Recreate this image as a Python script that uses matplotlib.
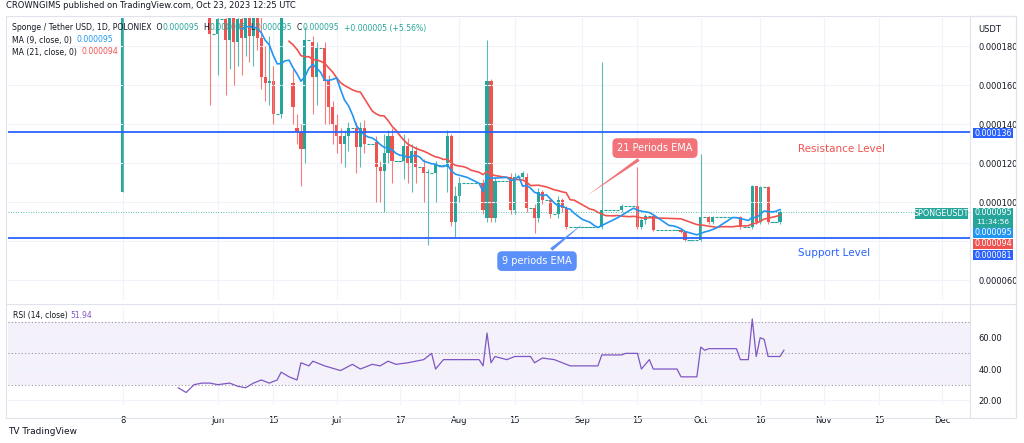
import numpy as np
import pandas as pd
import matplotlib.pyplot as plt
from matplotlib.patches import FancyBboxPatch

# ---------------------------------------------------------------
# Data (prices in units of 1e-6 USDT, days counted from May 8)
# ---------------------------------------------------------------
days = [0, 22, 24, 26, 27, 28, 29, 30, 31, 32, 33, 34, 35, 36, 37, 38, 40,
        43, 44, 45, 46, 48, 49, 51, 52, 53, 54, 55, 56, 57, 59, 60, 61,
        64, 65, 66, 67, 68, 71, 72, 73, 74, 76, 77, 79, 82, 83, 84, 85,
        91, 92, 93, 94, 98, 99, 101, 102, 104, 105, 106, 108, 110, 111, 112,
        121, 126, 130, 131, 132, 134, 141, 142, 146, 148, 149, 156, 159, 160,
        161, 163, 166]
opens = [105, 196, 186, 194, 183, 196, 182, 194, 184, 197, 185, 195, 184, 164, 161, 162, 145,
         161, 138, 136, 127, 182, 164, 179, 162, 149, 140, 134, 130, 134, 138, 128, 138,
         131, 118, 116, 125, 134, 121, 129, 120, 126, 118, 115, 115, 118, 134, 90, 103,
         110, 92, 162, 92, 113, 96, 113, 113, 97, 92, 105, 101, 94, 101, 97,
         87, 96, 98, 87, 91, 93, 85.6, 84.6, 80.5, 92.3, 90, 92.3, 87, 108,
         90, 107.7, 90]
highs = [200, 200, 200, 200, 200, 200, 200, 200, 200, 200, 200, 200, 195, 180, 185, 170, 200,
         168, 145, 140, 190, 185, 182, 182, 165, 152, 145, 138, 137, 141, 141, 141, 142,
         134, 121, 135, 137, 138, 135, 133, 130, 129, 122, 117, 121, 137, 135, 108, 113,
         112, 183, 163, 113, 115, 115, 116, 115, 99, 107, 106, 102, 103, 102, 98,
         172, 99, 118, 92, 94, 94, 86, 85, 124.6, 93, 93, 93, 109, 108,
         108, 108, 96]
lows = [105, 150, 165, 155, 168, 160, 170, 165, 175, 172, 170, 178, 158, 152, 150, 140, 143,
        140, 130, 108, 120, 145, 150, 140, 140, 130, 125, 120, 118, 126, 115, 118, 125,
        100, 100, 95, 120, 110, 112, 110, 105, 110, 100, 78, 100, 105, 88, 82, 100,
        94, 90, 90, 90, 94, 94, 112, 95, 84, 90, 99, 92, 92, 95, 86,
        86, 95, 86, 86, 89, 85, 84, 80, 80, 89, 89, 86, 86, 89,
        89, 89, 89]
closes = [200, 186, 194, 183, 196, 182, 194, 184, 197, 185, 195, 184, 164, 161, 162, 145, 198,
          149, 136, 127, 183, 164, 179, 162, 149, 140, 134, 130, 134, 138, 128, 138, 130,
          118, 116, 125, 134, 121, 129, 120, 126, 118, 115, 115, 119, 134, 90, 103, 110,
          96, 162, 92, 111, 96, 113, 115, 97, 92, 105, 101, 94, 101, 97, 87,
          96, 98, 87, 91, 93, 85.6, 84.6, 80.5, 92.3, 90, 92.3, 87, 108, 90,
          107.7, 90, 95]

rsi_days = [14, 16, 18, 20, 22, 24, 27, 29, 31, 33, 35, 37, 39, 40, 42, 44, 45, 47, 48,
            51, 55, 58, 60, 63, 65, 67, 69, 72, 76, 78, 79, 81, 87, 90, 91, 92, 93,
            94, 97, 99, 103, 104, 106, 109, 111, 113, 120, 121, 126, 127, 130, 131,
            133, 134, 140, 141, 145, 146, 147, 148, 155, 156, 158, 159, 160, 161,
            162, 163, 166, 167]
rsi_vals = [28, 25, 30, 31, 31, 30, 31, 29, 28, 31, 33, 31, 33, 38, 35, 33, 44, 42, 45,
            42, 39, 43, 40, 43, 42, 45, 43, 44, 46, 50, 40, 46, 46, 46, 42, 63, 44,
            48, 46, 48, 48, 44, 47, 46, 44, 42, 42, 49, 49, 50, 50, 40,
            46, 40, 40, 35, 35, 54, 52, 53, 53, 46, 46, 72, 48, 60,
            59, 48, 48, 52]

tick_days = [0, 24, 38, 54, 70, 85, 99, 116, 130, 146, 161, 177, 191, 207]
tick_labels = ['8', 'Jun', '15', 'Jul', '17', 'Aug', '15', 'Sep', '15', 'Oct', '16',
               'Nov', '15', 'Dec']

price_ticks = [60, 100, 120, 140, 160, 180]
resistance = 136
support = 81.5

UP = '#26a69a'
DN = '#ef5350'
BLUE = '#2962ff'
TXT = '#131722'

# daily series with flat days carried forward, for the moving averages
s = pd.Series(closes[1:], index=days[1:])
daily = s.reindex(range(days[1], days[-1] + 1)).ffill()
ma9 = daily.rolling(9).mean()
ma21 = daily.rolling(21).mean()

W, H = 1024, 443
fig = plt.figure(figsize=(W / 100, H / 100), dpi=100)
def fx(px): return px / W
def fy(py): return 1 - py / H

ax = fig.add_axes([fx(8), fy(300), fx(962), (300 - 18) / H])
axr = fig.add_axes([fx(8), fy(405), fx(962), (405 - 308) / H], sharex=ax)

# pixel -> data helpers for the price pane
def dx(px): return (px - 8) / 962 * 243 - 29
def py2p(py): return 100 - (py - 202) / 1.95

for a in (ax, axr):
    for sp in a.spines.values():
        sp.set_visible(False)
    a.tick_params(length=0, labelsize=6, colors=TXT)
    a.yaxis.tick_right()

# candles
for i in range(len(days)):
    c = UP if closes[i] >= opens[i] else DN
    ax.vlines(days[i], lows[i], highs[i], color=c, lw=0.8, alpha=0.75)
    lo, hi = sorted([opens[i], closes[i]])
    ax.bar(days[i], max(hi - lo, 0.4), bottom=lo, width=0.8, color=c)
# flat days drawn as dashes
for d in daily.index:
    if d not in days:
        ax.hlines(daily[d], d - 0.4, d + 0.4, color=UP, lw=0.8)

ax.plot(ma21.index, ma21.values, color=DN, lw=1.2)
ax.plot(ma9.index, ma9.values, color='#2196f3', lw=1.2)

ax.axhline(resistance, color=BLUE, lw=1.3)
ax.axhline(support, color=BLUE, lw=1.3)
ax.axhline(95, color=UP, lw=0.6, ls=(0, (1, 2)))

ax.set_ylim(49.8, 194.4)
ax.set_xlim(-29, 214)
ax.set_yticks(price_ticks)
ax.set_yticklabels(['0.%06d' % v for v in price_ticks])
ax.tick_params(axis='y', pad=6)
ax.set_xticks(tick_days)
ax.tick_params(axis='x', labelbottom=False)
ax.grid(color='#f0f3fa', lw=0.8)
ax.axhline(80, color='#f0f3fa', lw=0.8, zorder=0)

ax.text(dx(798), py2p(149), 'Resistance Level', color=DN, fontsize=7.5, va='center')
ax.text(dx(798), py2p(253), 'Support Level', color=BLUE, fontsize=7.5, va='center')

# callouts
ax.annotate('21 Periods EMA', xy=(dx(585), py2p(197)), xytext=(dx(655), py2p(148)),
            color='white', fontsize=7, ha='center', va='center',
            bbox=dict(boxstyle='round,pad=0.5', fc='#f2737a', ec='none'),
            arrowprops=dict(arrowstyle='wedge,tail_width=0.35,shrink_factor=0.5',
                            fc='#f2737a', ec='none'))
ax.annotate('9 periods EMA', xy=(dx(585), py2p(222)), xytext=(dx(537), py2p(261)),
            color='white', fontsize=7, ha='center', va='center',
            bbox=dict(boxstyle='round,pad=0.5', fc='#5b8ff9', ec='none'),
            arrowprops=dict(arrowstyle='wedge,tail_width=0.35,shrink_factor=0.5',
                            fc='#5b8ff9', ec='none'))

# RSI panel
axr.axhspan(30, 70, color='#7e57c2', alpha=0.08, lw=0)
for lv in (70, 50, 30):
    axr.axhline(lv, color='#9598a1', lw=0.8, ls=(0, (1, 2)))
axr.plot(rsi_days, rsi_vals, color='#7e57c2', lw=0.9)
axr.set_ylim(17, 79)
axr.set_yticks([20, 40, 60])
axr.set_yticklabels(['20.00', '40.00', '60.00'])
axr.tick_params(axis='y', pad=6)
axr.set_xticks(tick_days)
axr.set_xticklabels(tick_labels)
axr.tick_params(axis='x', pad=8)
axr.grid(color='#f0f3fa', lw=0.8)
t = axr.text(0.005, 0.9, 'RSI (14, close) ', transform=axr.transAxes, fontsize=5.5, color=TXT)
axr.annotate('51.94', xy=(1, 0), xycoords=t, fontsize=5.5, color='#7e57c2', va='bottom')

# price labels on the right axis
def box(y0, y1, fc, x0=973, x1=1013):
    fig.patches.append(FancyBboxPatch((fx(x0), fy(y1)), fx(x1 - x0), (y1 - y0) / H,
                                      boxstyle='square,pad=0', fc=fc, ec='none',
                                      transform=fig.transFigure))

def tag(y0, y1, txt, fc):
    box(y0, y1, fc)
    fig.text(fx(993), fy((y0 + y1) / 2), txt, color='white', fontsize=5.8,
             ha='center', va='center')

tag(128, 138, '0.000136', BLUE)
box(208, 228, UP)
fig.text(fx(993), fy(213), '0.000095', color='white', fontsize=5.8, ha='center', va='center')
fig.text(fx(993), fy(222.5), '11:34:56', color='white', fontsize=5.3, ha='center', va='center')
tag(228, 238, '0.000095', '#2196f3')
tag(239, 249, '0.000094', DN)
tag(250, 260, '0.000081', BLUE)
box(208, 219, UP, 915, 968)
fig.text(fx(941.5), fy(213.5), 'SPONGEUSDT', color='white', fontsize=5.8, ha='center', va='center')
fig.text(fx(990), fy(29), 'USDT', fontsize=6, ha='center', va='center', color=TXT)

# header / legend text (chained so the pieces do not overlap)
fig.text(fx(6), fy(6), 'CROWNGIMS published on TradingView.com, Oct 23, 2023 12:25 UTC',
         fontsize=6, va='center', color=TXT)
parts = [('Sponge / Tether USD, 1D, POLONIEX  O', TXT), ('0.000095', UP), ('  H', TXT),
         ('0.000095', UP), ('  L', TXT), ('0.000095', UP), ('  C', TXT), ('0.000095', UP),
         ('  +0.000005 (+5.56%)', UP)]
prev = fig.text(fx(12), fy(28), parts[0][0], fontsize=5.6, va='center', color=parts[0][1])
for txt, col in parts[1:]:
    prev = fig.text(0, 0, '', fontsize=5.6) if False else \
        plt.annotate(txt, xy=(1, 0.5), xycoords=prev, va='center', ha='left',
                     fontsize=5.6, color=col, annotation_clip=False)
t1 = fig.text(fx(12), fy(40), 'MA (9, close, 0)  ', fontsize=5.6, va='center', color=TXT)
plt.annotate('0.000095', xy=(1, 0.5), xycoords=t1, va='center', fontsize=5.6, color='#2196f3')
t2 = fig.text(fx(12), fy(52), 'MA (21, close, 0)  ', fontsize=5.6, va='center', color=TXT)
plt.annotate('0.000094', xy=(1, 0.5), xycoords=t2, va='center', fontsize=5.6, color=DN)

# frames
for x0, y0, x1, y1 in [(6, 16, 1016, 418), (970, 16, 1016, 418)]:
    fig.patches.append(FancyBboxPatch((fx(x0), fy(y1)), fx(x1 - x0), (y1 - y0) / H,
                                      boxstyle='square,pad=0', fc='none', ec='#e0e3eb',
                                      lw=0.8, transform=fig.transFigure))
fig.add_artist(plt.Line2D([fx(6), fx(1016)], [fy(304), fy(304)], color='#e0e3eb',
                          lw=0.8, transform=fig.transFigure))
fig.text(fx(8), fy(431), 'TV TradingView', fontsize=6.5, va='center', color=TXT)

plt.savefig('out.png', dpi=100)
plt.close()
